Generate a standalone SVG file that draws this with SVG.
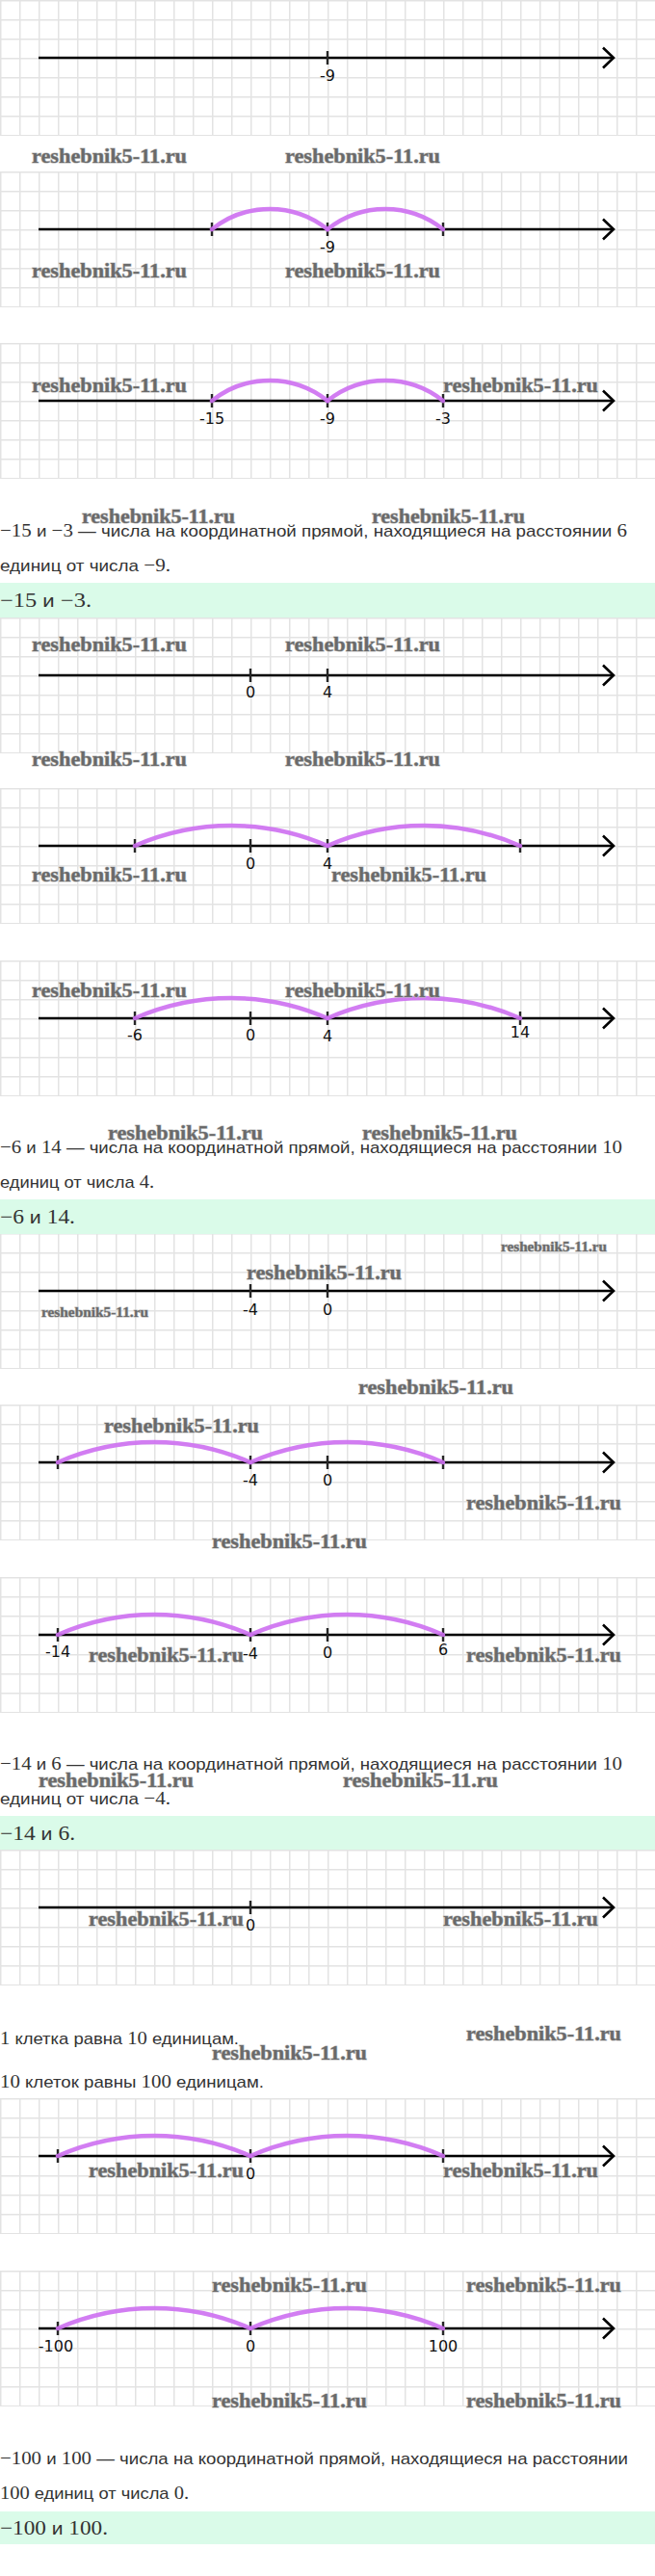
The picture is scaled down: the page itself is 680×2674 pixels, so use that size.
<svg xmlns="http://www.w3.org/2000/svg" width="680" height="2674" viewBox="0 0 680 2674">
<style>
.ax{stroke:#000;stroke-width:2.6;fill:none;marker-end:url(#arr)}
.tk{stroke:#262626;stroke-width:2.4}
.arc{fill:none;stroke:#cd6ff1;stroke-width:4.5;stroke-linecap:round;opacity:.9}
.lb{font-family:"DejaVu Sans","Liberation Sans",sans-serif;font-size:16px;fill:#111;text-anchor:middle}
.tx{font-family:"Liberation Sans",Arial,sans-serif;font-size:17px;fill:#333}
.m{font-family:"Liberation Serif","Times New Roman",serif;font-size:19px}
.ans{font-size:19px}
.ans .m{font-size:21px}
.wm{font-family:"Liberation Serif","Times New Roman",serif;font-weight:bold;font-size:20px;fill:#6a6a6a;stroke:#bdbdbd;stroke-width:1.1;paint-order:stroke}
.wms{font-size:14px}
.band{fill:#dafbe9}
</style>
<defs>
<pattern id="g" width="20" height="20" patternUnits="userSpaceOnUse">
<path d="M0 0.75H20M0.75 0V20" stroke="#e3e3e3" stroke-width="1.5" fill="none"/>
</pattern>
<rect id="gb" width="680" height="141" fill="url(#g)"/>
<marker id="arr" markerUnits="userSpaceOnUse" viewBox="0 0 16 24" markerWidth="16" markerHeight="24" refX="14" refY="12" orient="auto" style="overflow:visible">
<path d="M3 1.5L14 12L3 22.5" fill="none" stroke="#000" stroke-width="2.6"/>
</marker>
</defs>
<rect width="680" height="2674" fill="#fff"/>
<g id="grids">
<use href="#gb" y="0"/>
<use href="#gb" y="178"/>
<use href="#gb" y="356"/>
<use href="#gb" y="641"/>
<use href="#gb" y="818"/>
<use href="#gb" y="997"/>
<use href="#gb" y="1280"/>
<use href="#gb" y="1458"/>
<use href="#gb" y="1637"/>
<use href="#gb" y="1920"/>
<use href="#gb" y="2178"/>
<use href="#gb" y="2357"/>
</g>
<g id="bands">
<rect class="band" x="0" y="605" width="680" height="36"/>
<rect class="band" x="0" y="1245" width="680" height="36"/>
<rect class="band" x="0" y="1885" width="680" height="35"/>
<rect class="band" x="0" y="2607" width="680" height="34"/>
</g>
<g id="line1">
<line class="ax" x1="40" y1="60" x2="637" y2="60"/>
<line class="tk" x1="340" y1="53" x2="340" y2="67"/>
<text class="lb" x="340" y="84">-9</text>
</g>
<g id="line2">
<line class="ax" x1="40" y1="238" x2="637" y2="238"/>
<line class="tk" x1="220" y1="231" x2="220" y2="245"/>
<line class="tk" x1="340" y1="231" x2="340" y2="245"/>
<line class="tk" x1="460" y1="231" x2="460" y2="245"/>
<text class="lb" x="340" y="262">-9</text>
</g>
<g id="line3">
<line class="ax" x1="40" y1="416" x2="637" y2="416"/>
<line class="tk" x1="220" y1="409" x2="220" y2="423"/>
<line class="tk" x1="340" y1="409" x2="340" y2="423"/>
<line class="tk" x1="460" y1="409" x2="460" y2="423"/>
<text class="lb" x="220" y="440">-15</text>
<text class="lb" x="340" y="440">-9</text>
<text class="lb" x="460" y="440">-3</text>
</g>
<g id="line4">
<line class="ax" x1="40" y1="701" x2="637" y2="701"/>
<line class="tk" x1="260" y1="694" x2="260" y2="708"/>
<line class="tk" x1="340" y1="694" x2="340" y2="708"/>
<text class="lb" x="260" y="724">0</text>
<text class="lb" x="340" y="724">4</text>
</g>
<g id="line5">
<line class="ax" x1="40" y1="878" x2="637" y2="878"/>
<line class="tk" x1="140" y1="871" x2="140" y2="885"/>
<line class="tk" x1="260" y1="871" x2="260" y2="885"/>
<line class="tk" x1="340" y1="871" x2="340" y2="885"/>
<line class="tk" x1="540" y1="871" x2="540" y2="885"/>
<text class="lb" x="260" y="902">0</text>
<text class="lb" x="340" y="902">4</text>
</g>
<g id="line6">
<line class="ax" x1="40" y1="1057" x2="637" y2="1057"/>
<line class="tk" x1="140" y1="1050" x2="140" y2="1064"/>
<line class="tk" x1="260" y1="1050" x2="260" y2="1064"/>
<line class="tk" x1="340" y1="1050" x2="340" y2="1064"/>
<line class="tk" x1="540" y1="1050" x2="540" y2="1064"/>
<text class="lb" x="140" y="1080">-6</text>
<text class="lb" x="260" y="1080">0</text>
<text class="lb" x="340" y="1081">4</text>
<text class="lb" x="540" y="1077">14</text>
</g>
<g id="line7">
<line class="ax" x1="40" y1="1340" x2="637" y2="1340"/>
<line class="tk" x1="260" y1="1333" x2="260" y2="1347"/>
<line class="tk" x1="340" y1="1333" x2="340" y2="1347"/>
<text class="lb" x="260" y="1365">-4</text>
<text class="lb" x="340" y="1365">0</text>
</g>
<g id="line8">
<line class="ax" x1="40" y1="1518" x2="637" y2="1518"/>
<line class="tk" x1="60" y1="1511" x2="60" y2="1525"/>
<line class="tk" x1="260" y1="1511" x2="260" y2="1525"/>
<line class="tk" x1="340" y1="1511" x2="340" y2="1525"/>
<line class="tk" x1="460" y1="1511" x2="460" y2="1525"/>
<text class="lb" x="260" y="1542">-4</text>
<text class="lb" x="340" y="1542">0</text>
</g>
<g id="line9">
<line class="ax" x1="40" y1="1697" x2="637" y2="1697"/>
<line class="tk" x1="60" y1="1690" x2="60" y2="1704"/>
<line class="tk" x1="260" y1="1690" x2="260" y2="1704"/>
<line class="tk" x1="340" y1="1690" x2="340" y2="1704"/>
<line class="tk" x1="460" y1="1690" x2="460" y2="1704"/>
<text class="lb" x="60" y="1720">-14</text>
<text class="lb" x="260" y="1722">-4</text>
<text class="lb" x="340" y="1721">0</text>
<text class="lb" x="460" y="1718">6</text>
</g>
<g id="line10">
<line class="ax" x1="40" y1="1980" x2="637" y2="1980"/>
<line class="tk" x1="260" y1="1973" x2="260" y2="1987"/>
<text class="lb" x="260" y="2004">0</text>
</g>
<g id="line11">
<line class="ax" x1="40" y1="2238" x2="637" y2="2238"/>
<line class="tk" x1="60" y1="2231" x2="60" y2="2245"/>
<line class="tk" x1="260" y1="2231" x2="260" y2="2245"/>
<line class="tk" x1="460" y1="2231" x2="460" y2="2245"/>
<text class="lb" x="260" y="2262">0</text>
</g>
<g id="line12">
<line class="ax" x1="40" y1="2417" x2="637" y2="2417"/>
<line class="tk" x1="60" y1="2410" x2="60" y2="2424"/>
<line class="tk" x1="260" y1="2410" x2="260" y2="2424"/>
<line class="tk" x1="460" y1="2410" x2="460" y2="2424"/>
<text class="lb" x="58" y="2441">-100</text>
<text class="lb" x="260" y="2441">0</text>
<text class="lb" x="460" y="2441">100</text>
</g>
<g id="connectors">
<path class="arc" d="M220 238A96 96 0 0 1 340 238"/>
<path class="arc" d="M340 238A96 96 0 0 1 460 238"/>
<path class="arc" d="M220 416A96 96 0 0 1 340 416"/>
<path class="arc" d="M340 416A96 96 0 0 1 460 416"/>
<path class="arc" d="M140 878A249 249 0 0 1 340 878"/>
<path class="arc" d="M340 878A249 249 0 0 1 540 878"/>
<path class="arc" d="M140 1057A249 249 0 0 1 340 1057"/>
<path class="arc" d="M340 1057A249 249 0 0 1 540 1057"/>
<path class="arc" d="M60 1518A249 249 0 0 1 260 1518"/>
<path class="arc" d="M260 1518A249 249 0 0 1 460 1518"/>
<path class="arc" d="M60 1697A249 249 0 0 1 260 1697"/>
<path class="arc" d="M260 1697A249 249 0 0 1 460 1697"/>
<path class="arc" d="M60 2238A249 249 0 0 1 260 2238"/>
<path class="arc" d="M260 2238A249 249 0 0 1 460 2238"/>
<path class="arc" d="M60 2417A249 249 0 0 1 260 2417"/>
<path class="arc" d="M260 2417A249 249 0 0 1 460 2417"/>
</g>
<g id="text1">
<text class="tx" x="0" y="557" textLength="651" lengthAdjust="spacingAndGlyphs"><tspan class="m">−15</tspan> и <tspan class="m">−3</tspan> — числа на координатной прямой, находящиеся на расстоянии <tspan class="m">6</tspan></text>
<text class="tx" x="0" y="593" textLength="177" lengthAdjust="spacingAndGlyphs">единиц от числа <tspan class="m">−9.</tspan></text>
<text class="tx ans" x="0" y="630" textLength="95" lengthAdjust="spacingAndGlyphs"><tspan class="m">−15</tspan> и <tspan class="m">−3.</tspan></text>
</g>
<g id="text2">
<text class="tx" x="0" y="1197" textLength="646" lengthAdjust="spacingAndGlyphs"><tspan class="m">−6</tspan> и <tspan class="m">14</tspan> — числа на координатной прямой, находящиеся на расстоянии <tspan class="m">10</tspan></text>
<text class="tx" x="0" y="1233" textLength="160" lengthAdjust="spacingAndGlyphs">единиц от числа <tspan class="m">4.</tspan></text>
<text class="tx ans" x="0" y="1270" textLength="78" lengthAdjust="spacingAndGlyphs"><tspan class="m">−6</tspan> и <tspan class="m">14.</tspan></text>
</g>
<g id="text3">
<text class="tx" x="0" y="1837" textLength="646" lengthAdjust="spacingAndGlyphs"><tspan class="m">−14</tspan> и <tspan class="m">6</tspan> — числа на координатной прямой, находящиеся на расстоянии <tspan class="m">10</tspan></text>
<text class="tx" x="0" y="1873" textLength="177" lengthAdjust="spacingAndGlyphs">единиц от числа <tspan class="m">−4.</tspan></text>
<text class="tx ans" x="0" y="1910" textLength="78" lengthAdjust="spacingAndGlyphs"><tspan class="m">−14</tspan> и <tspan class="m">6.</tspan></text>
</g>
<g id="text4">
<text class="tx" x="0" y="2122" textLength="248" lengthAdjust="spacingAndGlyphs"><tspan class="m">1</tspan> клетка равна <tspan class="m">10</tspan> единицам.</text>
<text class="tx" x="0" y="2167" textLength="274" lengthAdjust="spacingAndGlyphs"><tspan class="m">10</tspan> клеток равны <tspan class="m">100</tspan> единицам.</text>
</g>
<g id="text5">
<text class="tx" x="0" y="2558" textLength="652" lengthAdjust="spacingAndGlyphs"><tspan class="m">−100</tspan> и <tspan class="m">100</tspan> — числа на координатной прямой, находящиеся на расстоянии</text>
<text class="tx" x="0" y="2594" textLength="196" lengthAdjust="spacingAndGlyphs"><tspan class="m">100</tspan> единиц от числа <tspan class="m">0.</tspan></text>
<text class="tx ans" x="0" y="2631" textLength="112" lengthAdjust="spacingAndGlyphs"><tspan class="m">−100</tspan> и <tspan class="m">100.</tspan></text>
</g>
<g id="watermarks" class="wm">
<text x="33" y="169" textLength="161" lengthAdjust="spacingAndGlyphs">reshebnik5-11.ru</text>
<text x="296" y="169" textLength="161" lengthAdjust="spacingAndGlyphs">reshebnik5-11.ru</text>
<text x="33" y="288" textLength="161" lengthAdjust="spacingAndGlyphs">reshebnik5-11.ru</text>
<text x="296" y="288" textLength="161" lengthAdjust="spacingAndGlyphs">reshebnik5-11.ru</text>
<text x="33" y="407" textLength="161" lengthAdjust="spacingAndGlyphs">reshebnik5-11.ru</text>
<text x="460" y="407" textLength="161" lengthAdjust="spacingAndGlyphs">reshebnik5-11.ru</text>
<text x="85" y="543" textLength="159" lengthAdjust="spacingAndGlyphs">reshebnik5-11.ru</text>
<text x="386" y="543" textLength="159" lengthAdjust="spacingAndGlyphs">reshebnik5-11.ru</text>
<text x="33" y="676" textLength="161" lengthAdjust="spacingAndGlyphs">reshebnik5-11.ru</text>
<text x="296" y="676" textLength="161" lengthAdjust="spacingAndGlyphs">reshebnik5-11.ru</text>
<text x="33" y="795" textLength="161" lengthAdjust="spacingAndGlyphs">reshebnik5-11.ru</text>
<text x="296" y="795" textLength="161" lengthAdjust="spacingAndGlyphs">reshebnik5-11.ru</text>
<text x="33" y="915" textLength="161" lengthAdjust="spacingAndGlyphs">reshebnik5-11.ru</text>
<text x="344" y="915" textLength="161" lengthAdjust="spacingAndGlyphs">reshebnik5-11.ru</text>
<text x="33" y="1035" textLength="161" lengthAdjust="spacingAndGlyphs">reshebnik5-11.ru</text>
<text x="296" y="1035" textLength="161" lengthAdjust="spacingAndGlyphs">reshebnik5-11.ru</text>
<text x="112" y="1183" textLength="161" lengthAdjust="spacingAndGlyphs">reshebnik5-11.ru</text>
<text x="376" y="1183" textLength="161" lengthAdjust="spacingAndGlyphs">reshebnik5-11.ru</text>
<text class="wms" x="520" y="1299" textLength="110" lengthAdjust="spacingAndGlyphs">reshebnik5-11.ru</text>
<text x="256" y="1328" textLength="161" lengthAdjust="spacingAndGlyphs">reshebnik5-11.ru</text>
<text class="wms" x="43" y="1367" textLength="111" lengthAdjust="spacingAndGlyphs">reshebnik5-11.ru</text>
<text x="372" y="1447" textLength="161" lengthAdjust="spacingAndGlyphs">reshebnik5-11.ru</text>
<text x="108" y="1487" textLength="161" lengthAdjust="spacingAndGlyphs">reshebnik5-11.ru</text>
<text x="484" y="1567" textLength="161" lengthAdjust="spacingAndGlyphs">reshebnik5-11.ru</text>
<text x="220" y="1607" textLength="161" lengthAdjust="spacingAndGlyphs">reshebnik5-11.ru</text>
<text x="92" y="1725" textLength="161" lengthAdjust="spacingAndGlyphs">reshebnik5-11.ru</text>
<text x="484" y="1725" textLength="161" lengthAdjust="spacingAndGlyphs">reshebnik5-11.ru</text>
<text x="40" y="1855" textLength="161" lengthAdjust="spacingAndGlyphs">reshebnik5-11.ru</text>
<text x="356" y="1855" textLength="161" lengthAdjust="spacingAndGlyphs">reshebnik5-11.ru</text>
<text x="92" y="1999" textLength="161" lengthAdjust="spacingAndGlyphs">reshebnik5-11.ru</text>
<text x="460" y="1999" textLength="161" lengthAdjust="spacingAndGlyphs">reshebnik5-11.ru</text>
<text x="484" y="2118" textLength="161" lengthAdjust="spacingAndGlyphs">reshebnik5-11.ru</text>
<text x="220" y="2138" textLength="161" lengthAdjust="spacingAndGlyphs">reshebnik5-11.ru</text>
<text x="92" y="2260" textLength="161" lengthAdjust="spacingAndGlyphs">reshebnik5-11.ru</text>
<text x="460" y="2260" textLength="161" lengthAdjust="spacingAndGlyphs">reshebnik5-11.ru</text>
<text x="220" y="2379" textLength="161" lengthAdjust="spacingAndGlyphs">reshebnik5-11.ru</text>
<text x="484" y="2379" textLength="161" lengthAdjust="spacingAndGlyphs">reshebnik5-11.ru</text>
<text x="220" y="2499" textLength="161" lengthAdjust="spacingAndGlyphs">reshebnik5-11.ru</text>
<text x="484" y="2499" textLength="161" lengthAdjust="spacingAndGlyphs">reshebnik5-11.ru</text>
</g>
</svg>
